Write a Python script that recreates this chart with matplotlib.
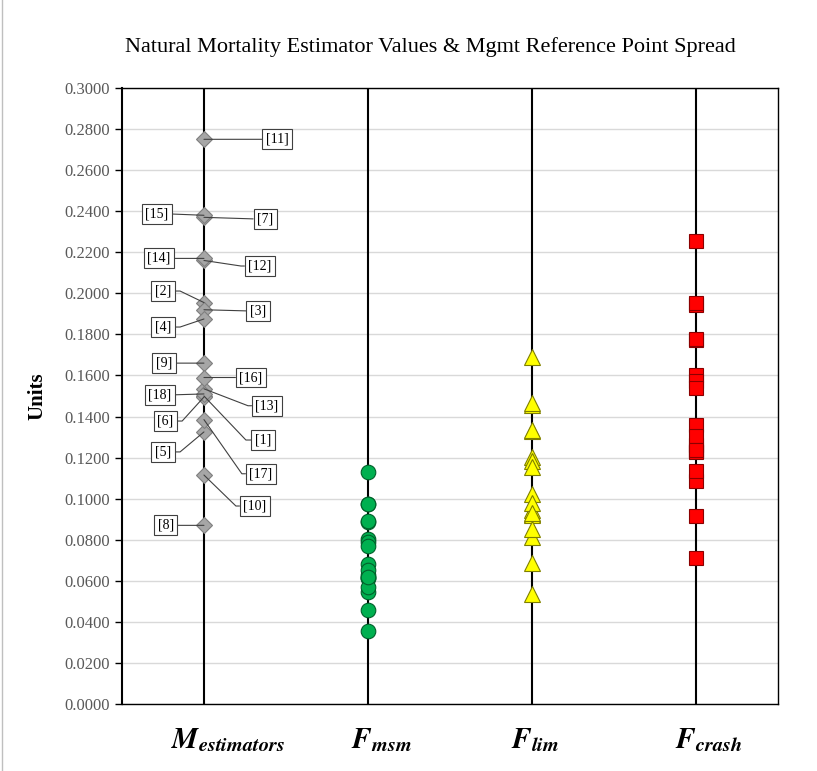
import math
import matplotlib
matplotlib.use("Agg")
import matplotlib.pyplot as plt
from matplotlib.lines import Line2D

plt.rcParams['mathtext.fontset'] = 'stix'

# estimator labels [1]..[18] and values
labels = ['[%d]' % i for i in range(1, 19)]
m_est = [0.1500, 0.1955, 0.1920, 0.1875, 0.1325, 0.1495, 0.2370, 0.0870, 0.1660,
         0.1115, 0.2750, 0.2160, 0.1535, 0.2170, 0.2380, 0.1590, 0.1385, 0.1510]
f_msm = [0.0615, 0.0802, 0.0787, 0.0769, 0.0543, 0.0613, 0.0972, 0.0357, 0.0681,
         0.0457, 0.1128, 0.0886, 0.0629, 0.0890, 0.0976, 0.0652, 0.0568, 0.0619]
f_lim = [0.0923, 0.1202, 0.1181, 0.1153, 0.0815, 0.0919, 0.1458, 0.0535, 0.1021,
         0.0686, 0.1691, 0.1328, 0.0944, 0.1335, 0.1464, 0.0978, 0.0852, 0.0929]
f_crash = [0.1230, 0.1603, 0.1574, 0.1538, 0.1087, 0.1226, 0.1943, 0.0713, 0.1361,
           0.0914, 0.2255, 0.1771, 0.1259, 0.1779, 0.1952, 0.1304, 0.1136, 0.1238]
categories = [r'$\mathbfit{M}_{\mathbfit{estimators}}$', r'$\mathbfit{F}_{\mathbfit{msm}}$',
              r'$\mathbfit{F}_{\mathbfit{lim}}$', r'$\mathbfit{F}_{\mathbfit{crash}}$']

# label box offsets (points) from each diamond
offsets = [(42.5, -31.7), (-29.5, 8.3), (38.9, -0.9), (-29.5, -5.8), (-29.5, -14.4),
           (-28, -17.3), (44, -1.2), (-27.4, 0), (-28.8, 0), (36.7, -22.3),
           (52.6, 0), (40.3, -4), (45.4, -12.2), (-32.4, 0), (-33.8, 1),
           (33.8, 0), (41, -39), (-31.7, -0.7)]
cat_shift = [0.15, 0.08, 0.02, 0.08]

fig = plt.figure(figsize=(8.17, 7.71), dpi=100)
ax = fig.add_axes([0.1493, 0.0869, 0.8027, 0.799])

for i in range(4):
    ax.axvline(i + 1, color='black', lw=1.5, zorder=1)

ax.plot([1] * len(m_est), m_est, 'D', ms=8.5, mfc='#a6a6a6', mec='#7f7f7f', mew=0.8, zorder=3)
ax.plot([2] * len(f_msm), f_msm, 'o', ms=10.5, mfc='#00b050', mec='#00602a', mew=0.8, zorder=3)
ax.plot([3] * len(f_lim), f_lim, '^', ms=11, mfc='#ffff00', mec='#7f7f00', mew=0.8, zorder=3)
ax.plot([4] * len(f_crash), f_crash, 's', ms=9.5, mfc='#ff0000', mec='#8b0000', mew=0.8, zorder=3)

for lab, v, off in zip(labels, m_est, offsets):
    left = off[0] < 0
    rel = (1, 0.5) if left else (0, 0.5)
    halfw = 4.1 + 1.4 * len(lab)
    edge_x = off[0] + halfw if left else off[0] - halfw
    corner_x = edge_x + 4 if left else edge_x - 4
    if abs(off[1]) > 2:
        ang = math.degrees(math.atan2(off[1], corner_x))
        conn = 'angle,angleA=0,angleB=%.2f,rad=0' % ang
    else:
        conn = 'arc3'
    ax.annotate(lab, xy=(1, v), xytext=off, textcoords='offset points',
                ha='center', va='center', fontsize=10, family='Liberation Serif',
                bbox=dict(boxstyle='square,pad=0.25', fc='white', ec='#404040', lw=0.8),
                arrowprops=dict(arrowstyle='-', color='#404040', lw=0.8, relpos=rel,
                                shrinkA=0, shrinkB=0, connectionstyle=conn), zorder=4)

ax.set_xlim(0.5, 4.5)
ax.set_ylim(0, 0.3)
ax.set_yticks([i * 0.02 for i in range(16)])
ax.set_yticklabels(['%.4f' % (i * 0.02) for i in range(16)], family='Liberation Serif',
                   fontsize=12, color='#595959')
ax.set_xticks([])
ax.grid(axis='y', color='#d9d9d9', lw=1)
ax.set_axisbelow(True)
ax.tick_params(axis='y', direction='out', length=5, width=1, color='black')
for s in ax.spines.values():
    s.set_color('black')
    s.set_linewidth(1)
ax.spines['left'].set_linewidth(1.5)

for i, c in enumerate(categories):
    ax.text(i + 1 + cat_shift[i], -0.0175, c, ha='center', va='center', fontsize=21)

ax.set_ylabel('Units', family='Liberation Serif', fontsize=15, fontweight='bold', labelpad=12)
fig.text(0.527, 0.939, 'Natural Mortality Estimator Values & Mgmt Reference Point Spread',
         ha='center', va='center', family='Liberation Serif', fontsize=16)

fig.add_artist(Line2D([0.003, 0.003], [0, 1], color='#bfbfbf', lw=1))

fig.savefig('out.png', dpi=100)
